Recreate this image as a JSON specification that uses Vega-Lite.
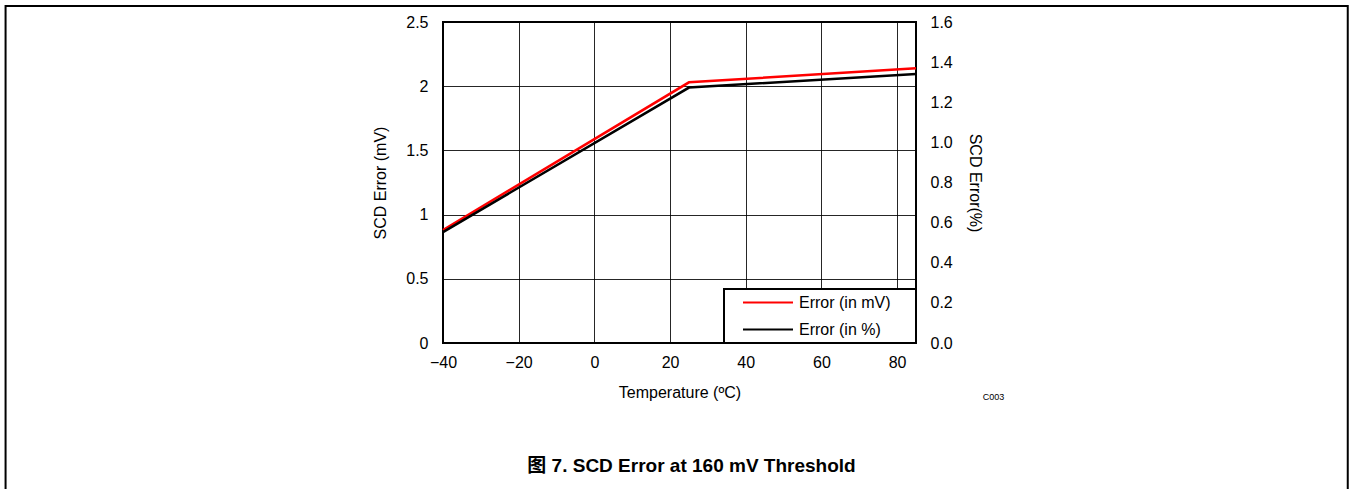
{
  "$schema": "https://vega.github.io/schema/vega-lite/v6.json",
  "width": 473,
  "height": 321,
  "autosize": {"type": "none"},
  "padding": {"left": 443, "top": 22, "right": 435, "bottom": 146},
  "background": "white",
  "config": {
    "font": "Liberation Sans",
    "view": {"stroke": "black", "strokeWidth": 2},
    "axis": {
      "labelFont": "Liberation Sans",
      "titleFont": "Liberation Sans",
      "labelFontSize": 16,
      "titleFontSize": 16,
      "labelColor": "black",
      "titleColor": "black",
      "titleFontWeight": "normal",
      "labelFlush": false,
      "labelOverlap": false,
      "ticks": false,
      "domain": false,
      "gridColor": "black",
      "gridOpacity": 0.85,
      "gridWidth": 1
    },
    "legend": {
      "labelFont": "Liberation Sans",
      "labelFontSize": 16,
      "labelColor": "black",
      "strokeWidth": 2
    }
  },
  "title": {
    "text": "图 7. SCD Error at 160 mV Threshold",
    "orient": "bottom",
    "anchor": "middle",
    "frame": "group",
    "font": "Liberation Sans, Noto Sans CJK SC",
    "fontSize": 19,
    "fontWeight": "bold",
    "color": "black",
    "offset": -80,
    "dx": 12
  },
  "datasets": {
    "series": [
      {"t": -40, "series": "Error (in mV)", "v": 0.88},
      {"t": 25, "series": "Error (in mV)", "v": 2.03},
      {"t": 85, "series": "Error (in mV)", "v": 2.14},
      {"t": -40, "series": "Error (in %)", "v": 0.553},
      {"t": 25, "series": "Error (in %)", "v": 1.273},
      {"t": 85, "series": "Error (in %)", "v": 1.341}
    ],
    "note": [{"label": "C003", "t": 105.5, "v": -0.42}],
    "frame": [{"left": -155.6, "right": 199.1, "top": 2.625, "bottom": -1.5}]
  },
  "layer": [
    {
      "layer": [
        {
          "data": {"name": "frame"},
          "mark": {"type": "rect", "fillOpacity": 0, "fill": "white", "stroke": "black", "strokeWidth": 2},
          "encoding": {
            "x": {"field": "left", "type": "quantitative", "scale": {"domain": [-40, 85], "nice": false, "zero": false}},
            "x2": {"field": "right"},
            "y": {"field": "top", "type": "quantitative", "scale": {"domain": [0, 2.5], "nice": false}},
            "y2": {"field": "bottom"}
          }
        },
        {
          "data": {"name": "series"},
          "transform": [{"filter": "datum.series === 'Error (in mV)'"}],
          "mark": {"type": "line", "strokeWidth": 2.5},
          "encoding": {
            "x": {
              "field": "t", "type": "quantitative",
              "scale": {"domain": [-40, 85], "nice": false, "zero": false},
              "axis": {"values": [-40, -20, 0, 20, 40, 60, 80], "grid": true, "labelPadding": 11, "titlePadding": 14, "title": "Temperature (ºC)"}
            },
            "y": {
              "field": "v", "type": "quantitative",
              "scale": {"domain": [0, 2.5], "nice": false},
              "axis": {"values": [0, 0.5, 1, 1.5, 2, 2.5], "format": "~g", "grid": true, "labelPadding": 15, "titlePadding": 17, "title": "SCD Error (mV)"}
            },
            "color": {
              "field": "series", "type": "nominal",
              "scale": {"domain": ["Error (in mV)", "Error (in %)"], "range": ["#ff0000", "#000000"]},
              "legend": {
                "title": " ",
                "titleOrient": "right",
                "titlePadding": 20,
                "titleFontSize": 8,
                "orient": "bottom-right",
                "offset": 0,
                "symbolType": "stroke",
                "symbolSize": 2500,
                "symbolStrokeWidth": 2,
                "symbolOffset": 13,
                "clipHeight": 17,
                "rowPadding": 10,
                "labelOffset": 5,
                "padding": 5,
                "strokeColor": "black",
                "fillColor": "white",
                "cornerRadius": 0
              }
            }
          }
        },
        {
          "data": {"name": "note"},
          "mark": {"type": "text", "fontSize": 9, "font": "Liberation Sans", "color": "black"},
          "encoding": {
            "x": {"field": "t", "type": "quantitative", "scale": {"domain": [-40, 85], "nice": false, "zero": false}},
            "y": {"field": "v", "type": "quantitative", "scale": {"domain": [0, 2.5], "nice": false}},
            "text": {"field": "label"}
          }
        }
      ]
    },
    {
      "data": {"name": "series"},
      "transform": [{"filter": "datum.series === 'Error (in %)'"}],
      "mark": {"type": "line", "strokeWidth": 2.5},
      "encoding": {
        "x": {"field": "t", "type": "quantitative", "scale": {"domain": [-40, 85], "nice": false, "zero": false}},
        "y": {
          "field": "v", "type": "quantitative",
          "scale": {"domain": [0, 1.6], "nice": false},
          "axis": {"orient": "right", "values": [0, 0.2, 0.4, 0.6, 0.8, 1.0, 1.2, 1.4, 1.6], "format": ".1f", "grid": false, "labelPadding": 14, "titlePadding": 14, "title": "SCD Error(%)"}
        },
        "color": {"field": "series", "type": "nominal"}
      }
    }
  ],
  "resolve": {"scale": {"y": "independent"}}
}
